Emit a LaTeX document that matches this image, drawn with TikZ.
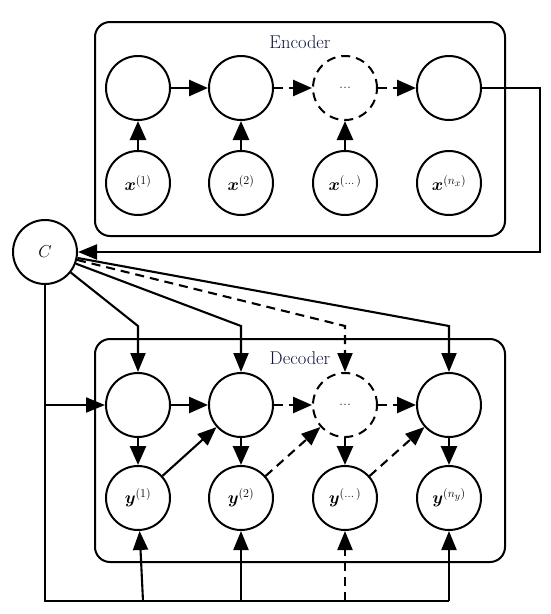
\documentclass[tikz,border=0pt]{standalone}
\usepackage{amsmath,bm}
\usetikzlibrary{arrows.meta}
\DeclareMathSizes{18}{18}{13}{10}
\definecolor{navy}{RGB}{14,20,60}
\begin{document}
\begin{tikzpicture}[x=1pt,y=-1pt,
  unit/.style={circle,draw,line width=2pt,minimum size=64pt,inner sep=0pt,font=\fontsize{18}{21}\selectfont},
  dunit/.style={unit,dash pattern=on 9pt off 6pt},
  box/.style={draw,line width=2pt,rounded corners=15pt},
  conn/.style={line width=2.6pt,-{Triangle[length=19pt,width=16pt]}},
  thinconn/.style={line width=2.1pt,-{Triangle[length=19pt,width=15pt]}},
  plain/.style={line width=2pt},
  dsh/.style={dash pattern=on 9pt off 6pt},
  lbl/.style={font=\fontsize{18.5}{21}\selectfont,text=navy},
  dots/.style={font=\fontsize{16}{18}\selectfont,text=navy,text depth=-4pt}
]
\useasboundingbox (0,0) rectangle (550,614);
% ---------------- Encoder ----------------
\draw[box] (95,22) rectangle (505,236);
\node[lbl] (enc) at (300,42) {Encoder};
\node[unit] (eh1) at (138,88) {};
\node[unit] (eh2) at (241,88) {};
\node[dunit] (eh3) at (345,88) {};
\node[dots] (ed) at (345,88) {...};
\node[unit] (eh4) at (449,88) {};
\node[unit] (x1) at (138,183) {$\bm{x}^{(1)}$};
\node[unit] (x2) at (241,183) {$\bm{x}^{(2)}$};
\node[unit] (x3) at (345,183) {$\bm{x}^{(\dots)}$};
\node[unit] (x4) at (449,183) {$\bm{x}^{(n_x)}$};
\draw[conn] (eh1) -- (eh2);
\draw[conn,dsh] (eh2) -- (eh3);
\draw[conn,dsh] (eh3) -- (eh4);
\draw[conn] (x1) -- (eh1);
\draw[conn] (x2) -- (eh2);
\draw[conn] (x3) -- (eh3);
% ---------------- Context ----------------
\node[unit] (C) at (45,252) {$C$};
\coordinate (er1) at (540,88);
\coordinate (er2) at (540,252);
\draw[thinconn] (eh4.east) -- (er1) -- (er2) -- (C);
% ---------------- Decoder ----------------
\draw[box] (95,339) rectangle (505,562);
\node[lbl] (dec) at (300,358) {Decoder};
\node[unit] (dh1) at (138,405) {};
\node[unit] (dh2) at (241,405) {};
\node[dunit] (dh3) at (345,405) {};
\node[dots] (dd) at (345,405) {...};
\node[unit] (dh4) at (449,405) {};
\node[unit] (y1) at (138,498) {$\bm{y}^{(1)}$};
\node[unit] (y2) at (241,498) {$\bm{y}^{(2)}$};
\node[unit] (y3) at (345,498) {$\bm{y}^{(\dots)}$};
\node[unit] (y4) at (449,498) {$\bm{y}^{(n_y)}$};
\draw[conn] (dh1) -- (dh2);
\draw[conn,dsh] (dh2) -- (dh3);
\draw[conn,dsh] (dh3) -- (dh4);
\draw[conn] (dh1) -- (y1);
\draw[conn] (dh2) -- (y2);
\draw[conn] (dh3) -- (y3);
\draw[conn] (dh4) -- (y4);
\draw[thinconn] (y1) -- (dh2);
\draw[thinconn,dsh] (y2) -- (dh3);
\draw[thinconn,dsh] (y3) -- (dh4);
% context fan-out
\coordinate (b1) at (138,326);
\coordinate (b2) at (241,326);
\coordinate (b3) at (345,326);
\coordinate (b4) at (449,326);
\draw[thinconn] (C) -- (b1) -- (dh1);
\draw[thinconn] (C) -- (b2) -- (dh2);
\draw[thinconn,dsh] (C) -- (b3) -- (dh3);
\draw[thinconn] (C) -- (b4) -- (dh4);
% left and bottom feed
\coordinate (cm) at (45,405);
\coordinate (cl) at (45,601);
\coordinate (br1) at (143,601);
\coordinate (br2) at (241,601);
\coordinate (br3) at (345,601);
\coordinate (br4) at (449,601);
\draw[plain] (C) -- (cl) -- (br4);
\draw[thinconn] (cm) -- (dh1);
\draw[thinconn] (br1) -- (y1);
\draw[thinconn] (br2) -- (y2);
\draw[thinconn,dsh] (br3) -- (y3);
\draw[thinconn] (br4) -- (y4);
\end{tikzpicture}
\end{document}
